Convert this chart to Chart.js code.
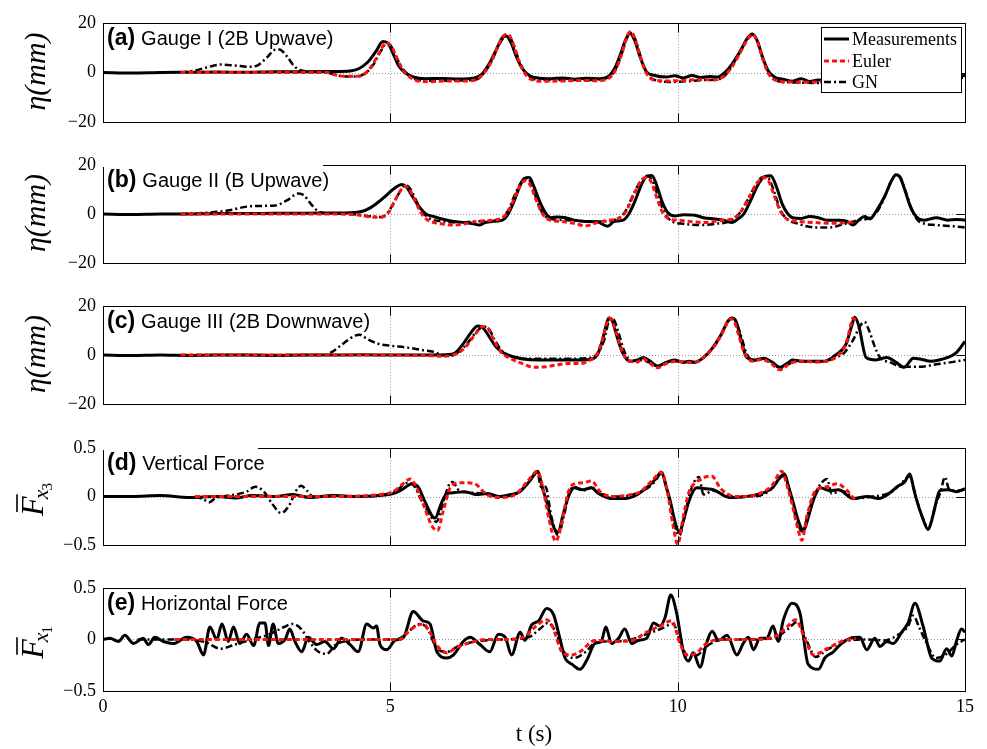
<!DOCTYPE html>
<html>
<head>
<meta charset="utf-8">
<script src="https://cdn.jsdelivr.net/npm/chart.js@4.4.1/dist/chart.umd.min.js"></script>
<style>
  html, body { margin: 0; padding: 0; background: #fff; }
  #fig { position: relative; width: 987px; height: 749px; overflow: hidden; }
  #fig canvas { position: absolute; left: 0; }
</style>
</head>
<body>
<div id="fig"></div>
<script>
// time axis (s)
const T_MIN = 0, T_MAX = 15;
const T_TICKS = [0, 5, 10, 15];

// legend names
const SERIES_NAMES = ['Measurements', 'Euler', 'GN'];

// (a) Gauge I, free surface elevation (mm) as [t, eta]
const gaugeI_meas = [[0,0],[0.5,-0.2],[1,0],[1.5,0.1],[2,0.2],[2.5,0.1],[3,0.3],[3.5,0.3],[4,0.4],[4.3,0.6],[4.45,1.5],[4.6,4],[4.75,8.5],[4.87,12.5],[4.95,12],[5.05,7.5],[5.15,2.5],[5.25,0],[5.4,-1.8],[5.6,-2.5],[5.9,-2.4],[6.2,-2.6],[6.45,-2.3],[6.6,-0.5],[6.72,3.5],[6.85,9.5],[6.95,14],[7.02,14.7],[7.1,12],[7.2,6],[7.3,1.5],[7.42,-1.2],[7.6,-2.3],[7.8,-2.5],[8,-2.2],[8.2,-2.7],[8.4,-2.3],[8.65,-2.5],[8.8,-1.5],[8.9,1.5],[9,7],[9.1,13.5],[9.17,15.8],[9.25,13],[9.35,6],[9.45,0.5],[9.6,-1.2],[9.8,-1.8],[9.95,-1.3],[10.1,-2.2],[10.25,-1.2],[10.4,-2],[10.55,-1.6],[10.7,-1.8],[10.82,0],[10.95,3.5],[11.1,9],[11.22,14],[11.3,15.5],[11.38,13],[11.48,6],[11.58,0.5],[11.7,-2],[11.85,-2.8],[12,-3.5],[12.15,-2.5],[12.3,-3.6],[12.45,-3],[12.6,-3.2],[12.9,-2.8],[13.2,-1.8],[13.35,2],[13.5,10],[13.6,14.5],[13.7,10],[13.85,0],[14.1,-2.5],[14.4,-3],[14.7,-2],[15,-1.2]];
const gaugeI_euler = [[1.35,0],[2,0],[3,0],[3.9,0],[4.05,-1],[4.2,-1.5],[4.45,-1.5],[4.58,0],[4.7,3.5],[4.82,8.5],[4.93,12],[5.02,10.5],[5.12,5.5],[5.22,1],[5.35,-2],[5.5,-3.5],[5.7,-3.7],[6,-3.4],[6.3,-3.4],[6.5,-2.8],[6.62,-0.5],[6.75,4],[6.88,11],[6.98,15],[7.05,15.3],[7.13,12],[7.23,5],[7.33,0],[7.45,-2.8],[7.65,-3.5],[8,-3.4],[8.3,-3.2],[8.6,-3.3],[8.8,-2.3],[8.92,1],[9.02,7],[9.12,14.5],[9.18,16.5],[9.25,14],[9.35,6.5],[9.45,0],[9.58,-3],[9.8,-3.4],[10.1,-3.2],[10.4,-2.8],[10.65,-3],[10.8,-1.5],[10.95,2.5],[11.1,8.5],[11.22,13.5],[11.3,15.3],[11.38,13],[11.48,5.5],[11.58,-0.5],[11.72,-3.3],[11.9,-3.8],[12.2,-3.9],[12.6,-3.8],[13.1,-3.6]];
const gaugeI_gn = [[1.35,0],[1.6,0.8],[1.8,2],[2.05,3.2],[2.3,2.8],[2.55,2.3],[2.7,3],[2.85,6],[3,9.2],[3.07,9.3],[3.2,6.5],[3.33,2.5],[3.45,0.8],[3.7,0.2],[3.95,-0.3],[4.1,-1.3],[4.4,-1.6],[4.55,-0.5],[4.7,3],[4.82,8],[4.93,11.5],[5,11],[5.1,6.5],[5.2,2],[5.35,-1.5],[5.5,-3],[5.8,-3.3],[6.2,-3.2],[6.5,-2.8],[6.62,-0.5],[6.75,4],[6.88,10.5],[6.98,14.3],[7.05,14.8],[7.13,12],[7.23,5.5],[7.33,0.5],[7.45,-2.2],[7.65,-3],[8,-3],[8.4,-3],[8.75,-2.3],[8.9,0.5],[9.02,7],[9.12,14],[9.18,16],[9.26,13.5],[9.36,6],[9.46,0],[9.6,-3],[9.85,-3.8],[10.2,-3.5],[10.5,-3],[10.75,-2.5],[10.9,1],[11.05,7],[11.2,13],[11.3,15],[11.38,13],[11.48,5.5],[11.6,-0.5],[11.75,-3.5],[12,-4],[12.4,-4.2],[12.8,-3.8],[13.2,-2.5],[13.4,2],[13.55,10],[13.65,14],[13.75,10],[13.9,0],[14.1,-3],[14.5,-3.5],[15,-2]];

// (b) Gauge II
const gaugeII_meas = [[0,0],[0.5,-0.2],[1,0],[1.5,0],[2,0.2],[2.5,0.2],[3,0.3],[3.5,0.3],[4,0.4],[4.3,0.5],[4.5,1],[4.65,2.5],[4.8,5],[4.95,8],[5.1,11],[5.2,12],[5.28,11],[5.4,6.5],[5.5,3],[5.62,0],[5.75,-1],[5.9,-2],[6.1,-3],[6.3,-3.5],[6.45,-4],[6.55,-4.5],[6.65,-3.5],[6.8,-3],[6.95,-2.5],[7.05,0],[7.15,5],[7.25,11],[7.33,14.5],[7.42,14.8],[7.5,11],[7.6,5],[7.7,0.5],[7.8,-1.5],[7.9,-1.2],[8.05,-1.5],[8.2,-2.5],[8.4,-3],[8.6,-3.2],[8.78,-5],[8.9,-3],[9.05,-2.5],[9.15,0],[9.27,6],[9.38,12.5],[9.47,15.5],[9.55,15.7],[9.63,12],[9.73,5],[9.83,0.5],[9.95,-0.8],[10.1,-0.3],[10.3,-0.5],[10.45,-1.5],[10.65,-2],[10.8,-2.5],[10.95,-3.5],[11.05,-2],[11.15,0],[11.28,6],[11.4,12],[11.52,15.3],[11.62,15.5],[11.72,11],[11.82,4],[11.92,0],[12,-1.5],[12.15,-1.8],[12.3,-1],[12.45,-1.5],[12.6,-2.5],[12.8,-2.5],[12.95,-3],[13.05,-4.5],[13.15,-2.5],[13.25,-1],[13.35,-2],[13.45,1],[13.6,7],[13.72,13.5],[13.8,16],[13.87,15],[13.95,10],[14.05,3],[14.15,-1],[14.3,-2.5],[14.5,-1.5],[14.7,-2.5],[14.85,-2.2],[15,-2.5]];
const gaugeII_euler = [[1.35,0],[2,0],[3,0],[4,0],[4.4,-0.3],[4.6,-1],[4.85,-1.3],[4.95,0],[5.05,4],[5.15,8.5],[5.25,11.3],[5.32,10.5],[5.42,6],[5.52,1],[5.65,-2.5],[5.85,-3.8],[6.1,-4.5],[6.3,-4],[6.5,-3],[6.8,-2.5],[6.95,-1.5],[7.05,1],[7.17,7],[7.28,12.5],[7.36,13.5],[7.44,11.5],[7.55,5],[7.65,0],[7.78,-2.5],[7.95,-3],[8.2,-3.8],[8.4,-4.8],[8.6,-3.5],[8.8,-2.5],[8.95,-2],[9.1,1],[9.22,7],[9.35,13],[9.45,14.8],[9.53,13.5],[9.63,7],[9.73,1],[9.85,-2],[10,-2.5],[10.2,-3],[10.45,-3.5],[10.65,-3],[10.8,-2.5],[10.95,-2],[11.1,1],[11.25,7],[11.38,12.5],[11.5,14.8],[11.58,13.5],[11.68,7.5],[11.78,1.5],[11.9,-2],[12.1,-3],[12.4,-3.5],[12.7,-3.8],[12.95,-3.5],[13.1,-3]];
const gaugeII_gn = [[1.35,0],[1.8,0.5],[2.2,1.5],[2.5,3],[2.8,3.3],[3,3.5],[3.2,5.5],[3.4,8.3],[3.5,7.5],[3.62,4],[3.75,1],[3.9,0.3],[4.3,0],[4.6,-0.8],[4.85,-1.2],[4.97,1],[5.08,5.5],[5.18,9.5],[5.27,11.8],[5.34,10.5],[5.45,5.5],[5.55,1],[5.7,-2],[5.9,-3],[6.2,-3.5],[6.5,-3],[6.8,-2.7],[6.95,-1.5],[7.05,1.5],[7.17,8],[7.28,13],[7.38,14.5],[7.46,12],[7.56,5],[7.66,0],[7.8,-2],[8.1,-2.5],[8.4,-3],[8.7,-3],[8.95,-2],[9.1,1.5],[9.22,7.5],[9.36,13.5],[9.48,15.3],[9.56,13.5],[9.66,7],[9.76,1],[9.9,-3],[10.1,-4],[10.4,-4.5],[10.65,-4],[10.9,-3],[11.05,-0.5],[11.2,5],[11.35,11.5],[11.48,15],[11.58,14.5],[11.68,9],[11.78,2],[11.9,-2],[12.1,-4],[12.4,-5.5],[12.65,-5.5],[12.9,-4],[13.15,-2.5],[13.35,-1.5],[13.5,2],[13.62,8],[13.73,14],[13.8,16],[13.88,14.5],[13.97,9],[14.07,2],[14.2,-3],[14.5,-4.5],[14.8,-5],[15,-5.5]];

// (c) Gauge III
const gaugeIII_meas = [[0,0],[0.5,-0.2],[1,0],[1.5,-0.2],[2,0],[2.5,0],[3,-0.2],[3.5,0],[4,0],[4.5,0.1],[5,0],[5.5,0],[5.9,0],[6.1,0.5],[6.25,4],[6.4,9],[6.52,11.8],[6.6,11.3],[6.72,7.5],[6.85,3],[6.98,0.7],[7.15,-0.8],[7.43,-1.9],[7.8,-2],[8.2,-2],[8.48,-1.8],[8.6,0],[8.68,5],[8.75,11.5],[8.8,15],[8.86,14],[8.95,7],[9.05,0.5],[9.17,-2.5],[9.3,-2],[9.4,-1],[9.52,-2.5],[9.65,-4.5],[9.8,-3],[9.94,-2],[10.1,-3],[10.2,-2.5],[10.3,-3],[10.45,-1],[10.6,2.7],[10.75,8],[10.88,14],[10.95,15],[11.02,13.5],[11.1,6.5],[11.2,-1],[11.35,-2],[11.5,-1.3],[11.65,-3],[11.78,-5],[11.9,-3.5],[12,-2],[12.15,-2.5],[12.3,-2.5],[12.56,-2.5],[12.75,0],[12.93,4.4],[13.03,12],[13.08,15.3],[13.15,12],[13.28,-1],[13.45,-2],[13.64,-1],[13.8,-3],[13.94,-5],[14.1,-1.3],[14.25,-1.8],[14.4,-2.5],[14.55,-2],[14.7,-1],[14.85,1],[15,5.5]];
const gaugeIII_euler = [[1.35,0],[2,0],[3,0],[4,0],[5,0],[5.7,-0.3],[5.95,-0.5],[6.15,0.5],[6.3,3],[6.45,7.5],[6.6,11.5],[6.68,11.3],[6.8,6],[6.92,1.3],[7.05,-1],[7.14,-2],[7.3,-3.5],[7.5,-5],[7.7,-4.8],[7.9,-4],[8.1,-3.5],[8.3,-3.5],[8.48,-2],[8.6,0.5],[8.7,7],[8.78,14],[8.82,15],[8.9,11.5],[9,4],[9.12,-2],[9.3,-2.8],[9.4,-1.5],[9.5,-3],[9.65,-5.2],[9.8,-3.5],[10,-2.5],[10.2,-3],[10.35,-2.5],[10.5,0],[10.65,4],[10.8,10],[10.9,14.5],[10.96,14.5],[11.05,9],[11.15,1.5],[11.3,-2.5],[11.45,-1.8],[11.6,-3],[11.78,-6],[11.95,-3.5],[12.15,-2.5],[12.4,-2.8],[12.6,-2.5],[12.8,0],[12.92,4],[13,11],[13.05,15],[13.1,14]];
const gaugeIII_gn = [[1.35,0],[2,0],[3,0],[3.85,0],[4,1.5],[4.2,5],[4.4,8],[4.47,8.2],[4.6,6.5],[4.8,4.5],[5,3.8],[5.3,3],[5.55,2],[5.75,1.3],[5.9,0],[6.05,-0.3],[6.2,1.5],[6.35,5],[6.5,9.5],[6.62,11.5],[6.7,11],[6.82,6],[6.95,1.5],[7.1,-0.5],[7.3,-1.5],[7.7,-1.5],[8.1,-1.5],[8.4,-1.3],[8.6,0.5],[8.72,6],[8.82,14.5],[8.88,14.5],[8.97,9],[9.08,1],[9.2,-2.5],[9.35,-2],[9.5,-3],[9.65,-4.5],[9.8,-3],[10,-2.5],[10.2,-3],[10.35,-2.5],[10.5,0],[10.68,5],[10.82,11],[10.93,14.8],[11,14],[11.1,8],[11.2,0.5],[11.35,-2.3],[11.5,-1.5],[11.65,-3.5],[11.8,-5.5],[11.95,-3.5],[12.15,-2.5],[12.45,-2.8],[12.7,-1.5],[12.9,1],[13.05,6],[13.18,12],[13.25,13.5],[13.33,10],[13.42,4],[13.52,-1],[13.7,-3],[13.9,-4.8],[14.2,-4.8],[14.5,-3.8],[14.8,-2.8],[15,-2]];

// (d) vertical force, normalised
const forceV_meas = [[0,0],[0.5,0],[1,0.01],[1.5,-0.01],[2,0],[2.3,-0.015],[2.6,0.01],[3,0],[3.3,0.02],[3.6,-0.01],[4,0.01],[4.4,0],[4.8,0.01],[5.05,0.03],[5.2,0.07],[5.38,0.13],[5.48,0.1],[5.6,-0.05],[5.74,-0.21],[5.78,-0.22],[5.88,-0.08],[5.98,0.03],[6.12,0.04],[6.3,0.05],[6.5,0.02],[6.7,0.03],[6.9,0],[7.1,0.02],[7.25,0.05],[7.37,0.12],[7.5,0.22],[7.56,0.26],[7.65,0.08],[7.72,-0.05],[7.82,-0.28],[7.92,-0.37],[8,-0.2],[8.1,0],[8.2,0.09],[8.35,0.07],[8.5,0.09],[8.6,0.04],[8.86,-0.02],[9.1,-0.02],[9.3,0.02],[9.46,0.09],[9.6,0.17],[9.72,0.25],[9.8,0.1],[9.86,-0.02],[9.95,-0.25],[10.03,-0.37],[10.1,-0.25],[10.2,-0.04],[10.33,0.09],[10.5,0.08],[10.62,0.07],[10.9,-0.01],[11.2,0],[11.5,0.04],[11.65,0.09],[11.8,0.21],[11.86,0.23],[11.93,0.1],[12,-0.04],[12.1,-0.25],[12.19,-0.35],[12.28,-0.2],[12.36,-0.04],[12.48,0.09],[12.65,0.06],[12.8,0.07],[13.05,-0.02],[13.3,0],[13.5,-0.02],[13.7,0.04],[13.82,0.1],[13.95,0.15],[14.04,0.23],[14.1,0.1],[14.15,-0.02],[14.25,-0.2],[14.36,-0.34],[14.45,-0.18],[14.56,0.06],[14.7,0.07],[14.85,0.05],[15,0.08]];
const forceV_euler = [[1.6,0],[2,0],[3,0],[4,0],[4.8,0.02],[5.05,0.05],[5.2,0.12],[5.35,0.18],[5.45,0.1],[5.6,-0.12],[5.72,-0.3],[5.82,-0.35],[5.92,-0.15],[6.05,0.1],[6.2,0.14],[6.35,0.14],[6.5,0.12],[6.6,0.06],[6.75,0],[6.9,-0.01],[7.1,0],[7.25,0.06],[7.42,0.18],[7.56,0.26],[7.65,0.1],[7.75,-0.2],[7.88,-0.46],[7.97,-0.3],[8.1,0.05],[8.2,0.13],[8.35,0.14],[8.5,0.16],[8.65,0.05],[8.86,0],[9.1,0.01],[9.35,0.05],[9.55,0.16],[9.72,0.25],[9.82,0.05],[9.92,-0.3],[10,-0.49],[10.1,-0.2],[10.2,0.05],[10.33,0.15],[10.59,0.21],[10.75,0.08],[11,0],[11.2,0],[11.5,0.05],[11.65,0.12],[11.81,0.26],[11.9,0.12],[12,-0.1],[12.1,-0.35],[12.16,-0.45],[12.25,-0.2],[12.4,0.06],[12.6,0.1],[12.77,0.13],[12.95,0.06],[13.1,-0.05]];
const forceV_gn = [[1.6,0],[1.75,-0.03],[1.85,-0.06],[1.95,-0.02],[2.2,0.01],[2.5,0.05],[2.65,0.1],[2.8,0.05],[2.95,-0.08],[3.1,-0.17],[3.25,-0.08],[3.35,0.05],[3.45,0.11],[3.55,0.06],[3.65,0],[4,0],[4.5,0],[4.9,0.02],[5.1,0.06],[5.3,0.14],[5.4,0.12],[5.55,-0.05],[5.7,-0.2],[5.8,-0.26],[5.9,-0.1],[6.02,0.12],[6.08,0.15],[6.2,0.06],[6.4,0.04],[6.6,0.03],[6.9,0],[7.2,0.03],[7.4,0.14],[7.56,0.25],[7.62,0.1],[7.7,0.1],[7.8,-0.2],[7.92,-0.4],[8.02,-0.2],[8.12,0.05],[8.2,0.1],[8.35,0.06],[8.5,0.09],[8.7,0.02],[9,0],[9.4,0.06],[9.6,0.15],[9.72,0.24],[9.82,0.05],[9.95,-0.3],[10.03,-0.4],[10.12,-0.2],[10.22,0.05],[10.37,0.2],[10.45,0.02],[10.62,0.06],[10.9,0],[11.3,0],[11.6,0.06],[11.8,0.2],[11.86,0.22],[11.95,0.05],[12.05,-0.2],[12.17,-0.36],[12.28,-0.15],[12.4,0.04],[12.6,0.18],[12.68,0.03],[12.85,0.06],[13.1,-0.02],[13.4,0],[13.7,0.04],[13.9,0.14],[14.04,0.21],[14.12,0.05],[14.25,-0.2],[14.36,-0.32],[14.48,-0.1],[14.58,0.06],[14.65,0.2],[14.72,0.08],[14.85,0.06],[15,0.07]];

// (e) horizontal force, normalised
const forceH_meas = [[0,0],[0.12,0.01],[0.27,-0.02],[0.38,0.04],[0.53,-0.04],[0.7,0.01],[0.79,-0.05],[0.9,0.02],[1.05,-0.02],[1.22,-0.04],[1.46,0.02],[1.63,-0.02],[1.75,-0.15],[1.86,0.12],[1.98,0],[2.07,0.15],[2.18,-0.02],[2.27,0.12],[2.38,-0.04],[2.5,0.05],[2.62,-0.06],[2.73,0.16],[2.82,0.16],[2.88,-0.06],[2.96,0.15],[3.05,-0.04],[3.17,0],[3.25,0.1],[3.34,-0.02],[3.46,-0.12],[3.57,0.02],[3.72,-0.05],[3.86,-0.02],[4.01,-0.09],[4.15,0.01],[4.3,-0.05],[4.44,-0.12],[4.59,0.15],[4.7,0.11],[4.76,0.13],[4.82,-0.05],[4.94,-0.1],[5.08,-0.01],[5.23,0.02],[5.4,0.27],[5.57,0.18],[5.69,0.15],[5.81,-0.12],[5.98,-0.18],[6.1,-0.15],[6.27,-0.02],[6.39,0.02],[6.56,-0.05],[6.73,-0.12],[6.88,0.05],[7,0.02],[7.11,-0.15],[7.26,0.07],[7.34,-0.01],[7.46,0.14],[7.58,0.18],[7.72,0.3],[7.84,0.24],[7.95,0.01],[8.04,-0.18],[8.16,-0.24],[8.3,-0.29],[8.42,-0.2],[8.56,-0.04],[8.67,-0.02],[8.75,0.12],[8.85,-0.04],[8.97,0.01],[9.08,0.1],[9.2,-0.04],[9.31,-0.01],[9.46,0.01],[9.58,0.16],[9.69,0.13],[9.78,0.21],[9.88,0.43],[9.98,0.26],[10.1,-0.12],[10.19,-0.21],[10.27,-0.13],[10.39,-0.27],[10.5,-0.04],[10.6,0.08],[10.71,-0.01],[10.86,0.04],[11.03,-0.15],[11.14,-0.04],[11.23,0.02],[11.32,-0.1],[11.43,0.01],[11.55,0.01],[11.66,0.13],[11.75,-0.02],[11.84,0.19],[11.99,0.35],[12.13,0.25],[12.27,-0.24],[12.45,-0.29],[12.56,-0.18],[12.71,-0.12],[12.85,-0.04],[13,0.01],[13.17,0.02],[13.29,-0.1],[13.43,0.01],[13.52,-0.07],[13.64,-0.02],[13.75,-0.04],[13.9,0.07],[14.01,0.16],[14.13,0.35],[14.27,0.13],[14.42,-0.18],[14.56,-0.21],[14.68,-0.09],[14.77,-0.16],[14.85,-0.02],[14.94,0.1],[15,0.07]];
const forceH_euler = [[1.25,0],[2,0],[3,0],[4,0],[5.17,0],[5.3,0.07],[5.45,0.13],[5.57,0.15],[5.68,0.08],[5.8,-0.05],[5.98,-0.13],[6.15,-0.08],[6.4,-0.03],[6.7,0],[7,0],[7.31,0.02],[7.54,0.13],[7.72,0.19],[7.81,0.14],[8,-0.13],[8.16,-0.15],[8.3,-0.12],[8.56,-0.01],[8.9,-0.02],[9.2,-0.01],[9.46,0.07],[9.69,0.13],[9.9,0.18],[10.04,-0.04],[10.16,-0.15],[10.33,-0.13],[10.5,-0.04],[10.74,0],[11.2,0],[11.66,0.02],[11.9,0.12],[12.05,0.19],[12.22,0],[12.36,-0.15],[12.6,-0.09],[12.85,-0.02],[13.1,0.01]];
const forceH_gn = [[0.6,0],[1.5,0],[1.8,-0.03],[2.04,-0.09],[2.3,-0.05],[2.6,0],[2.9,0.05],[3.15,0.12],[3.3,0.15],[3.45,0.1],[3.6,-0.03],[3.75,-0.12],[3.89,-0.14],[4.05,-0.05],[4.2,-0.02],[4.6,0],[5.1,0],[5.25,0.04],[5.45,0.14],[5.53,0.15],[5.65,0.1],[5.8,-0.08],[5.98,-0.12],[6.2,-0.06],[6.5,-0.02],[7,0],[7.4,0.02],[7.6,0.1],[7.74,0.16],[7.85,0.1],[8.02,-0.12],[8.2,-0.18],[8.4,-0.12],[8.6,-0.02],[8.9,-0.02],[9.2,0],[9.5,0.06],[9.7,0.1],[9.92,0.15],[10.06,-0.05],[10.2,-0.17],[10.35,-0.15],[10.55,-0.05],[10.8,0],[11.3,0],[11.7,0.02],[11.92,0.1],[12.08,0.17],[12.25,-0.02],[12.4,-0.17],[12.6,-0.1],[12.9,-0.02],[13.3,0],[13.6,-0.01],[13.85,0.05],[14,0.12],[14.1,0.23],[14.2,0.12],[14.3,0],[14.5,-0.18],[14.68,-0.14],[14.85,-0.05],[15,0]];

// y tick values
const ETA_TICKS = [-20, 0, 20];
const FORCE_TICKS = [-0.5, 0, 0.5];

// line styles (order: lower = drawn on top)
const STYLES = [
  { borderColor: '#000000', borderWidth: 3, borderDash: [], order: 3 },
  { borderColor: '#ff1010', borderWidth: 3, borderDash: [5, 3], order: 1 },
  { borderColor: '#000000', borderWidth: 2.5, borderDash: [7, 3, 2, 3], order: 2 }
];

const SERIF = '"Liberation Serif", "Times New Roman", serif';
const SANS = '"Liberation Sans", Arial, sans-serif';
const TICK_LEN = 9;

const panels = [
  { tag: '(a)', text: 'Gauge I (2B Upwave)', top: 19, bottom: 126, ticks: ETA_TICKS, ytitle: 'eta', legend: true,
    series: [gaugeI_meas, gaugeI_euler, gaugeI_gn] },
  { tag: '(b)', text: 'Gauge II (B Upwave)', top: 161, bottom: 267, ticks: ETA_TICKS, ytitle: 'eta', hideTop: 220,
    series: [gaugeII_meas, gaugeII_euler, gaugeII_gn] },
  { tag: '(c)', text: 'Gauge III (2B Downwave)', top: 302, bottom: 408, ticks: ETA_TICKS, ytitle: 'eta',
    series: [gaugeIII_meas, gaugeIII_euler, gaugeIII_gn] },
  { tag: '(d)', text: 'Vertical Force', top: 444, bottom: 549, ticks: FORCE_TICKS, ytitle: '3', hideTop: 155,
    series: [forceV_meas, forceV_euler, forceV_gn] },
  { tag: '(e)', text: 'Horizontal Force', top: 584, bottom: 691, ticks: FORCE_TICKS, ytitle: '1', xlabels: true,
    series: [forceH_meas, forceH_euler, forceH_gn] }
];

function fmtTick(v) {
  return v < 0 ? '\u2212' + String(-v) : String(v);
}

// y-axis title: eta(mm) or F-bar with x_n subscript
function drawYTitle(ctx, kind, cx, cy) {
  ctx.save();
  ctx.fillStyle = '#000';
  ctx.strokeStyle = '#000';
  ctx.translate(cx, cy);
  ctx.rotate(-Math.PI / 2);
  if (kind === 'eta') {
    ctx.font = 'italic 30px ' + SERIF;
    ctx.textAlign = 'center';
    ctx.textBaseline = 'middle';
    ctx.fillText('\u03b7(mm)', 0, 0);
  } else {
    ctx.textBaseline = 'alphabetic';
    ctx.textAlign = 'left';
    ctx.font = 'italic 32px ' + SERIF;
    const wF = ctx.measureText('F').width;
    ctx.font = 'italic 22px ' + SERIF;
    const wx = ctx.measureText('x').width;
    ctx.font = '15px ' + SERIF;
    const wn = ctx.measureText(kind).width;
    let u = -(wF + wx + wn) / 2 - 2;
    const base = 6;
    ctx.font = 'italic 32px ' + SERIF;
    ctx.fillText('F', u, base);
    ctx.lineWidth = 1.6;
    ctx.beginPath();
    ctx.moveTo(u + 4, base - 26);
    ctx.lineTo(u + wF + 2, base - 26);
    ctx.stroke();
    u += wF - 3;
    ctx.font = 'italic 22px ' + SERIF;
    ctx.fillText('x', u, base + 5);
    u += wx;
    ctx.font = '15px ' + SERIF;
    ctx.fillText(kind, u - 1, base + 9);
  }
  ctx.restore();
}

const frame = {
  id: 'frame',
  beforeDatasetsDraw(chart) {
    const { ctx, chartArea: a, scales: { x, y } } = chart;
    ctx.save();
    ctx.strokeStyle = '#9a9a9a';
    ctx.lineWidth = 1;
    ctx.setLineDash([1, 2]);
    ctx.beginPath();
    T_TICKS.slice(1, -1).forEach(v => {
      const px = Math.round(x.getPixelForValue(v)) + 0.5;
      ctx.moveTo(px, a.top);
      ctx.lineTo(px, a.bottom);
    });
    const py = Math.round(y.getPixelForValue(0)) + 0.5;
    ctx.moveTo(a.left, py);
    ctx.lineTo(a.right, py);
    ctx.stroke();
    ctx.restore();
  },
  afterDatasetsDraw(chart, args, o) {
    const { ctx, chartArea: a, scales: { x, y } } = chart;
    const L = Math.round(a.left) + 0.5, R = Math.round(a.right) + 0.5;
    const T = Math.round(a.top) + 0.5, B = Math.round(a.bottom) + 0.5;
    ctx.save();
    ctx.setLineDash([]);
    ctx.strokeStyle = '#000';
    ctx.lineWidth = 1;
    ctx.strokeRect(L, T, R - L, B - T);
    // inward ticks, MATLAB style
    ctx.beginPath();
    T_TICKS.forEach(v => {
      const px = Math.round(x.getPixelForValue(v)) + 0.5;
      ctx.moveTo(px, T); ctx.lineTo(px, T + TICK_LEN);
      ctx.moveTo(px, B); ctx.lineTo(px, B - TICK_LEN);
    });
    o.ticks.forEach(v => {
      const py = Math.round(y.getPixelForValue(v)) + 0.5;
      ctx.moveTo(L, py); ctx.lineTo(L + TICK_LEN, py);
      ctx.moveTo(R, py); ctx.lineTo(R - TICK_LEN, py);
    });
    ctx.stroke();

    // the text box of the panel tag sits over part of the top edge
    if (o.hideTop) {
      ctx.fillStyle = '#fff';
      ctx.fillRect(L - 0.5, T - 1.5, o.hideTop, 3);
    }

    // panel tag
    ctx.fillStyle = '#000';
    ctx.textBaseline = 'alphabetic';
    ctx.textAlign = 'left';
    ctx.font = 'bold 23px ' + SANS;
    const tx = a.left + 4, ty = a.top + 22;
    ctx.fillText(o.tag, tx, ty);
    const w = ctx.measureText(o.tag).width;
    ctx.font = '20px ' + SANS;
    ctx.fillText(o.text, tx + w + 6, ty);

    // legend box
    if (o.legend) {
      const bw = 140, bh = 65;
      const lx = Math.round(a.right) - 144, ly = Math.round(a.top) + 4;
      ctx.fillStyle = '#fff';
      ctx.fillRect(lx, ly, bw, bh);
      ctx.strokeStyle = '#000';
      ctx.lineWidth = 1;
      ctx.strokeRect(lx + 0.5, ly + 0.5, bw, bh);
      const rows = [12, 34, 55];
      SERIES_NAMES.forEach((name, i) => {
        const st = STYLES[i];
        const ry = ly + rows[i];
        ctx.save();
        ctx.strokeStyle = st.borderColor;
        ctx.lineWidth = st.borderWidth;
        ctx.setLineDash(st.borderDash);
        ctx.beginPath();
        ctx.moveTo(lx + 3, ry);
        ctx.lineTo(lx + 28, ry);
        ctx.stroke();
        ctx.restore();
        ctx.fillStyle = '#000';
        ctx.font = '18px ' + SERIF;
        ctx.textBaseline = 'middle';
        ctx.fillText(name, lx + 31, ry + 1);
      });
    }
    ctx.restore();

    drawYTitle(ctx, o.ytitle, a.left - 66, (a.top + a.bottom) / 2 - 1);
  }
};

const fig = document.getElementById('fig');
const PAD = 14;

panels.forEach(p => {
  const cv = document.createElement('canvas');
  const canvasTop = p.top - PAD;
  const h = p.xlabels ? 749 - canvasTop : (p.bottom - p.top) + 2 * PAD;
  cv.width = 987;
  cv.height = h;
  cv.style.top = canvasTop + 'px';
  fig.appendChild(cv);

  const datasets = p.series.map((pts, i) => Object.assign({
    label: SERIES_NAMES[i],
    data: pts.map(([t, v]) => ({ x: t, y: v })),
    pointRadius: 0,
    fill: false,
    cubicInterpolationMode: 'monotone',
    borderCapStyle: 'butt',
    borderJoinStyle: 'round'
  }, STYLES[i]));

  new Chart(cv, {
    type: 'line',
    data: { datasets },
    plugins: [frame],
    options: {
      responsive: false,
      animation: false,
      events: [],
      layout: { padding: { left: 0, right: 22, top: PAD, bottom: p.xlabels ? 0 : PAD } },
      plugins: {
        legend: { display: false },
        tooltip: { enabled: false },
        frame: { tag: p.tag, text: p.text, ticks: p.ticks, ytitle: p.ytitle, legend: !!p.legend, hideTop: p.hideTop || 0 }
      },
      scales: {
        x: {
          type: 'linear',
          min: T_MIN,
          max: T_MAX,
          display: !!p.xlabels,
          grid: { display: false, drawTicks: false },
          border: { display: false },
          ticks: { stepSize: 5, maxRotation: 0, padding: 5, color: '#000', font: { family: SERIF, size: 18 } },
          title: { display: !!p.xlabels, text: 't (s)', color: '#000', padding: 0, font: { family: SERIF, size: 23 } },
          afterFit: s => { s.height = p.xlabels ? 58 : 0; }
        },
        y: {
          min: p.ticks[0],
          max: p.ticks[2],
          grid: { display: false, drawTicks: false },
          border: { display: false },
          ticks: {
            stepSize: p.ticks[2],
            padding: 7,
            color: '#000',
            font: { family: SERIF, size: 18 },
            callback: v => fmtTick(v)
          },
          afterFit: s => { s.width = 103; }
        }
      }
    }
  });
});
</script>
</body>
</html>
